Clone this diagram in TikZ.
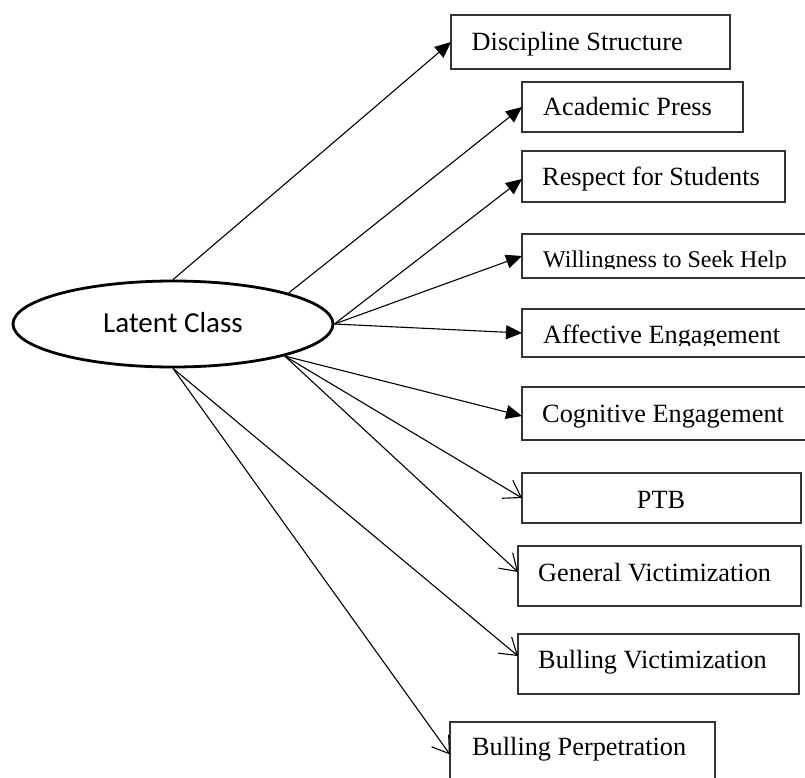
\documentclass[tikz,border=0pt]{standalone}
\usepackage{fontspec}
\setmainfont{Liberation Serif}
\newfontfamily\calfont{Carlito}
\usetikzlibrary{arrows.meta,shapes.geometric,calc}
\begin{document}
\begin{tikzpicture}[x=1pt,y=-1pt,
  box/.style={draw=black!80, line width=1.3pt, anchor=north west, inner sep=0pt, outer sep=0pt},
  lbl/.style={anchor=base west, inner sep=0pt, font=\fontsize{26.3}{30}\selectfont},
  conn/.style={line width=1.1pt},
  fill arrow/.style={conn, -{Triangle[length=16pt,width=14pt]}},
  open arrow/.style={conn, -{Straight Barb[length=16pt,width=21pt]}},
]
\useasboundingbox (0,0) rectangle (805,777);

% latent class
\node[ellipse, draw, line width=2.8pt, minimum width=320pt, minimum height=86pt,
      inner sep=0pt, font=\calfont\fontsize{29}{34}\selectfont,
      text height=16pt, text depth=0pt] (lc) at (173,324) {Latent Class};

% boxes
\node[box, minimum width=279pt, minimum height=54pt] (ds)  at (451,15)  {};
\node[box, minimum width=221pt, minimum height=50pt] (ap)  at (522,82)  {};
\node[box, minimum width=263pt, minimum height=51pt] (rs)  at (522,151) {};
\node[box, minimum width=290pt, minimum height=44pt] (wsh) at (522,234) {};
\node[box, minimum width=290pt, minimum height=48pt] (ae)  at (522,309) {};
\node[box, minimum width=290pt, minimum height=53pt] (ce)  at (522,387) {};
\node[box, minimum width=279pt, minimum height=50pt] (ptb) at (522,473) {};
\node[box, minimum width=283pt, minimum height=60pt] (gv)  at (518,546) {};
\node[box, minimum width=281pt, minimum height=60pt] (bv)  at (518,634) {};
\node[box, minimum width=265pt, minimum height=63pt] (bp)  at (450,722) {};

% labels
\node[lbl] (dst) at (471.5,50) {Discipline Structure};
\node[lbl] (apt) at (543,115.5) {Academic Press};
\node[lbl] (rst) at (542,185) {Respect for Students};
\begin{scope}
  \clip (523,236) rectangle (810,268.5);
  \node[lbl, font=\fontsize{24}{28}\selectfont] (wsht) at (543,267) {Willingness to Seek Help};
\end{scope}
\begin{scope}
  \clip (523,311) rectangle (810,345);
  \node[lbl] (aet) at (543,343.3) {Affective Engagement};
\end{scope}
\node[lbl] (cet) at (542,422.3) {Cognitive Engagement};
\node[lbl, anchor=base] (ptbt) at (661,508) {PTB};
\node[lbl] (gvt) at (538,581.7) {General Victimization};
\node[lbl] (bvt) at (538,668) {Bulling Victimization};
\node[lbl] (bpt) at (472,755) {Bulling Perpetration};

% connectors
\draw[fill arrow] (lc.north) -- (ds.west);
\draw[fill arrow] (lc.15) -- (ap.west);
\draw[fill arrow] (lc.east) -- ([yshift=-2.5pt]rs.west);
\draw[fill arrow] (lc.east) -- (wsh.west);
\draw[fill arrow] (lc.east) -- (ae.west);
\draw[fill arrow] (lc.-16) -- ([yshift=-2.5pt]ce.west);
\draw[open arrow] (lc.-16) -- (ptb.west);
\draw[open arrow] (lc.-16) -- ([yshift=4pt]gv.west);
\draw[open arrow] (lc.south) -- ([yshift=8pt]bv.west);
\draw[open arrow] (lc.south) -- ([yshift=-1pt]bp.west);
\end{tikzpicture}
\end{document}
